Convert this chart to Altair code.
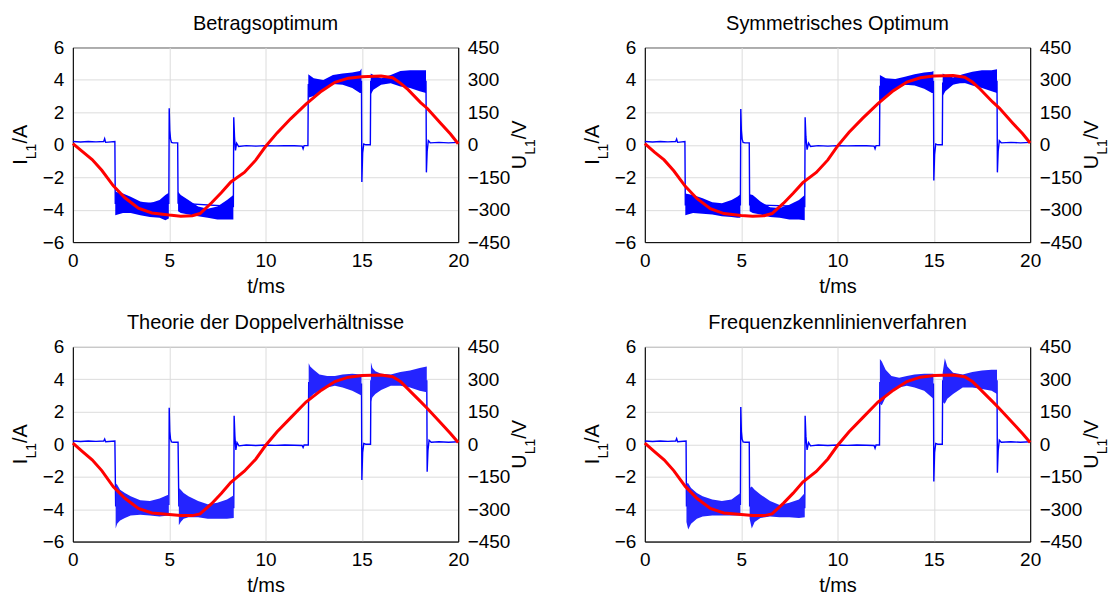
import altair as alt
import pandas as pd

FONT = "Liberation Sans"
W, H = 386, 195
BLUE = "#0000ff"
RED = "#ff0000"

titles = ["Betragsoptimum", "Symmetrisches Optimum",
          "Theorie der Doppelverhältnisse", "Frequenzkennlinienverfahren"]
x_ticks = [0, 5, 10, 15, 20]
i_ticks = [-6, -4, -2, 0, 2, 4, 6]
u_ticks = [-450, -300, -150, 0, 150, 300, 450]

# ---------- Panel 1: Betragsoptimum ----------
bo_tr_t = [0.0, 0.4, 0.8, 1.2, 1.6, 1.65, 1.7, 2.18, 2.2, 4.98, 5.0, 5.03, 5.07, 5.12, 5.2, 5.44, 5.46, 8.33, 8.35, 8.39, 8.44, 8.5, 8.6, 9.0, 9.5, 10.0, 10.5, 11.0, 11.5, 11.9, 11.95, 12.0, 12.2, 12.22, 14.98, 15.0, 15.04, 15.1, 15.2, 15.44, 15.46, 18.33, 18.35, 18.39, 18.45, 18.55, 19.0, 19.5, 20.0]
bo_tr_i = [0.2, 0.17, 0.2, 0.18, 0.2, 0.38, 0.15, 0.2, -3.6, -3.6, 2.25, 0.9, 0.35, 0.15, 0.12, 0.12, -3.6, -3.8, 1.7, 0.5, -0.35, 0.1, -0.1, -0.05, -0.08, -0.05, -0.07, -0.05, -0.06, -0.08, -0.25, -0.05, -0.05, 3.7, 3.9, -2.3, -0.5, 0.05, 0.0, 0.0, 3.9, 3.9, -1.7, -0.4, 0.25, 0.12, 0.15, 0.12, 0.15]
bo_b_seg = [1, 1, 1, 1, 1, 1, 1, 1, 2, 2, 2, 2, 2, 2, 2, 2, 3, 3, 3, 3, 3, 3, 3, 3, 4, 4, 4, 4, 4, 4, 4, 4]
bo_b_t = [2.2, 2.6, 3.0, 3.5, 4.0, 4.5, 4.8, 4.98, 5.46, 5.6, 6.0, 6.5, 7.0, 7.5, 8.0, 8.33, 12.22, 12.5, 13.0, 13.5, 14.0, 14.5, 14.9, 14.98, 15.46, 15.6, 16.0, 16.5, 17.0, 17.5, 18.0, 18.33]
bo_b_lo = [-4.35, -4.2, -4.2, -4.35, -4.45, -4.5, -4.65, -4.55, -4.1, -4.2, -4.3, -4.4, -4.5, -4.6, -4.6, -4.6, 2.9, 3.0, 3.4, 3.75, 3.7, 3.5, 3.2, 3.2, 3.1, 3.4, 3.7, 3.8, 3.6, 3.5, 3.3, 3.2]
bo_b_hi = [-2.9, -3.0, -3.2, -3.5, -3.6, -3.4, -3.1, -2.95, -2.9, -3.1, -3.4, -3.8, -3.95, -3.8, -3.4, -3.1, 4.35, 4.1, 4.0, 4.3, 4.4, 4.45, 4.55, 4.7, 4.4, 4.3, 4.1, 4.3, 4.55, 4.6, 4.6, 4.6]
bo_v_t = [0.0, 0.5, 1.0, 1.5, 2.1, 2.7, 3.4, 4.1, 5.0, 5.6, 6.2, 6.6, 7.2, 7.7, 8.2, 8.9, 9.5, 10.0, 10.6, 11.3, 12.1, 12.9, 13.6, 14.3, 15.0, 16.0, 16.6, 17.0, 17.4, 18.05, 18.4, 19.1, 19.6, 20.0]
bo_v_u = [5, -32, -68, -118, -190, -245, -293, -315, -325, -330, -328, -318, -268, -222, -172, -128, -70, -8, 55, 120, 188, 248, 289, 308, 315, 318, 310, 285, 255, 195, 168, 98, 50, 5]

# ---------- Panel 2: Symmetrisches Optimum ----------
so_tr_t = [0.0, 0.4, 0.8, 1.2, 1.6, 1.65, 1.7, 2.08, 2.1, 4.96, 4.98, 5.01, 5.05, 5.1, 5.2, 5.42, 5.44, 8.3, 8.32, 8.36, 8.42, 8.5, 8.6, 9.0, 9.5, 10.0, 10.5, 11.0, 11.5, 11.9, 11.95, 12.0, 12.18, 12.2, 14.98, 15.0, 15.04, 15.1, 15.2, 15.44, 15.46, 18.28, 18.3, 18.34, 18.4, 18.5, 19.0, 19.5, 20.0]
so_tr_i = [0.2, 0.17, 0.2, 0.18, 0.2, 0.35, 0.15, 0.2, -3.7, -3.7, 2.2, 0.9, 0.35, 0.15, 0.12, 0.12, -3.7, -3.8, 1.7, 0.5, -0.3, 0.1, -0.1, -0.05, -0.08, -0.05, -0.07, -0.05, -0.06, -0.08, -0.25, -0.05, -0.05, 3.6, 3.9, -2.2, -0.6, 0.05, 0.0, 0.0, 3.8, 3.9, -1.7, -0.4, 0.25, 0.12, 0.15, 0.12, 0.15]
so_b_seg = [1, 1, 1, 1, 1, 1, 1, 1, 2, 2, 2, 2, 2, 2, 2, 2, 3, 3, 3, 3, 3, 3, 3, 3, 4, 4, 4, 4, 4, 4, 4, 4]
so_b_t = [2.1, 2.5, 3.0, 3.5, 4.0, 4.5, 4.8, 4.96, 5.44, 5.6, 6.0, 6.5, 7.0, 7.5, 8.0, 8.3, 12.2, 12.5, 13.0, 13.5, 14.0, 14.5, 14.9, 14.98, 15.46, 15.6, 16.0, 16.5, 17.0, 17.5, 18.0, 18.28]
so_b_lo = [-4.35, -4.2, -4.25, -4.3, -4.4, -4.45, -4.5, -4.5, -4.1, -4.2, -4.3, -4.45, -4.5, -4.6, -4.6, -4.65, 2.7, 3.0, 3.4, 3.7, 3.65, 3.45, 3.2, 3.2, 3.0, 3.3, 3.7, 3.85, 3.65, 3.5, 3.3, 3.2]
so_b_hi = [-3.0, -3.1, -3.3, -3.55, -3.6, -3.4, -3.2, -3.05, -3.05, -3.1, -3.5, -3.85, -3.9, -3.7, -3.4, -3.1, 4.3, 4.1, 4.05, 4.2, 4.35, 4.45, 4.5, 4.55, 4.4, 4.3, 4.15, 4.35, 4.5, 4.6, 4.6, 4.65]
so_v_t = [0.0, 0.5, 1.0, 1.5, 2.1, 2.7, 3.4, 4.1, 5.0, 5.6, 6.2, 6.6, 7.2, 7.7, 8.2, 8.9, 9.5, 10.0, 10.6, 11.3, 12.1, 12.9, 13.6, 14.3, 15.0, 16.0, 16.6, 17.0, 17.4, 18.05, 18.4, 19.1, 19.6, 20.0]
so_v_u = [5, -34, -70, -120, -192, -248, -295, -318, -327, -330, -328, -318, -270, -224, -175, -128, -70, -6, 58, 122, 190, 250, 290, 310, 318, 320, 312, 290, 258, 198, 170, 100, 52, 8]

# ---------- Panel 3: Theorie der Doppelverhaeltnisse ----------
dv_tr_t = [0.0, 0.4, 0.8, 1.2, 1.6, 1.65, 1.7, 2.18, 2.22, 4.98, 5.0, 5.03, 5.07, 5.12, 5.2, 5.46, 5.5, 8.35, 8.37, 8.41, 8.46, 8.52, 8.62, 9.0, 9.5, 10.0, 10.5, 11.0, 11.5, 11.9, 11.95, 12.0, 12.22, 12.24, 14.98, 15.0, 15.04, 15.1, 15.2, 15.45, 15.47, 18.37, 18.39, 18.43, 18.49, 18.6, 19.0, 19.5, 20.0]
dv_tr_i = [0.2, 0.17, 0.2, 0.18, 0.2, 0.32, 0.15, 0.2, -3.8, -3.7, 2.25, 0.8, 0.3, 0.15, 0.12, 0.12, -3.8, -3.9, 1.75, 0.5, -0.35, 0.1, -0.1, -0.05, -0.08, -0.05, -0.07, -0.05, -0.06, -0.08, -0.2, -0.05, -0.05, 3.8, 3.7, -2.2, -0.5, 0.05, 0.0, 0.0, 3.9, 3.9, -1.7, -0.4, 0.25, 0.12, 0.15, 0.12, 0.15]
dv_b_seg = [1, 1, 1, 1, 1, 1, 1, 1, 1, 2, 2, 2, 2, 2, 2, 2, 2, 2, 3, 3, 3, 3, 3, 3, 3, 3, 3, 4, 4, 4, 4, 4, 4, 4, 4, 4]
dv_b_t = [2.22, 2.3, 2.45, 2.7, 3.0, 3.5, 4.0, 4.5, 4.98, 5.5, 5.6, 5.75, 6.0, 6.5, 7.0, 7.5, 8.0, 8.35, 12.24, 12.32, 12.5, 12.8, 13.2, 13.6, 14.0, 14.5, 14.98, 15.47, 15.55, 15.7, 16.0, 16.5, 17.0, 17.5, 18.0, 18.37]
dv_b_lo = [-5.2, -4.9, -4.7, -4.55, -4.4, -4.35, -4.4, -4.45, -4.4, -5.0, -4.8, -4.6, -4.5, -4.5, -4.6, -4.6, -4.6, -4.55, 2.6, 2.9, 3.1, 3.3, 3.5, 3.6, 3.5, 3.3, 3.0, 2.6, 2.9, 3.1, 3.35, 3.6, 3.6, 3.5, 3.3, 3.2]
dv_b_hi = [-2.4, -2.5, -2.8, -3.0, -3.2, -3.45, -3.5, -3.35, -3.1, -2.7, -2.8, -3.0, -3.2, -3.5, -3.7, -3.6, -3.4, -3.15, 5.0, 4.8, 4.6, 4.3, 4.2, 4.2, 4.3, 4.35, 4.3, 5.05, 4.7, 4.5, 4.35, 4.3, 4.45, 4.55, 4.7, 4.8]
dv_v_t = [0.0, 0.5, 1.0, 1.5, 2.1, 2.7, 3.4, 4.1, 5.0, 5.6, 6.2, 6.6, 7.2, 7.7, 8.2, 8.9, 9.5, 10.0, 10.6, 11.3, 12.1, 12.9, 13.6, 14.3, 15.0, 16.0, 16.6, 17.0, 17.4, 18.05, 18.4, 19.1, 19.6, 20.0]
dv_v_u = [5, -34, -72, -122, -197, -250, -297, -318, -325, -330, -330, -322, -275, -228, -176, -125, -68, -6, 58, 122, 195, 250, 290, 310, 318, 320, 312, 290, 255, 197, 165, 98, 50, 8]

# ---------- Panel 4: Frequenzkennlinienverfahren ----------
fk_tr_t = [0.0, 0.4, 0.8, 1.2, 1.6, 1.65, 1.7, 2.14, 2.16, 4.96, 4.98, 5.01, 5.05, 5.1, 5.2, 5.42, 5.44, 8.3, 8.32, 8.36, 8.42, 8.5, 8.6, 9.0, 9.5, 10.0, 10.5, 11.0, 11.5, 11.9, 11.95, 12.0, 12.18, 12.2, 14.98, 15.0, 15.04, 15.1, 15.2, 15.44, 15.46, 18.28, 18.3, 18.34, 18.4, 18.5, 19.0, 19.5, 20.0]
fk_tr_i = [0.2, 0.17, 0.2, 0.18, 0.2, 0.35, 0.15, 0.2, -3.8, -3.7, 2.3, 0.8, 0.3, 0.15, 0.12, 0.12, -3.8, -3.9, 1.75, 0.5, -0.35, 0.1, -0.1, -0.05, -0.08, -0.05, -0.07, -0.05, -0.06, -0.08, -0.25, -0.05, -0.05, 3.8, 3.7, -2.3, -0.5, 0.05, 0.0, 0.0, 3.9, 3.9, -1.75, -0.4, 0.25, 0.12, 0.15, 0.12, 0.15]
fk_b_seg = [1, 1, 1, 1, 1, 1, 1, 1, 1, 2, 2, 2, 2, 2, 2, 2, 2, 2, 3, 3, 3, 3, 3, 3, 3, 3, 3, 4, 4, 4, 4, 4, 4, 4, 4, 4]
fk_b_t = [2.16, 2.25, 2.4, 2.7, 3.0, 3.5, 4.0, 4.5, 4.96, 5.44, 5.55, 5.7, 6.0, 6.5, 7.0, 7.5, 8.0, 8.3, 12.2, 12.3, 12.5, 12.8, 13.2, 13.6, 14.0, 14.5, 14.98, 15.46, 15.57, 15.7, 16.0, 16.5, 17.0, 17.5, 18.0, 18.28]
fk_b_lo = [-4.8, -5.25, -4.9, -4.6, -4.45, -4.4, -4.4, -4.4, -4.4, -4.6, -5.2, -4.8, -4.55, -4.45, -4.5, -4.5, -4.55, -4.5, 2.5, 2.4, 2.9, 3.2, 3.5, 3.6, 3.5, 3.3, 2.8, 2.6, 2.5, 2.8, 3.1, 3.5, 3.5, 3.4, 3.3, 3.1]
fk_b_hi = [-2.4, -2.4, -2.7, -3.0, -3.2, -3.4, -3.5, -3.4, -3.0, -2.7, -2.6, -2.8, -3.1, -3.5, -3.75, -3.6, -3.4, -3.0, 5.25, 5.1, 4.6, 4.2, 4.1, 4.2, 4.3, 4.35, 4.35, 4.4, 5.3, 4.8, 4.4, 4.3, 4.45, 4.55, 4.6, 4.6]
fk_v_t = [0.0, 0.5, 1.0, 1.5, 2.1, 2.7, 3.4, 4.1, 5.0, 5.6, 6.2, 6.6, 7.2, 7.7, 8.2, 8.9, 9.5, 10.0, 10.6, 11.3, 12.1, 12.9, 13.6, 14.3, 15.0, 16.0, 16.6, 17.0, 17.4, 18.05, 18.4, 19.1, 19.6, 20.0]
fk_v_u = [5, -34, -72, -122, -195, -250, -297, -318, -325, -330, -330, -322, -272, -226, -175, -126, -68, -6, 58, 122, 195, 250, 290, 310, 318, 320, 312, 290, 255, 197, 165, 98, 50, 8]

panels = [
    (bo_tr_t, bo_tr_i, bo_b_seg, bo_b_t, bo_b_lo, bo_b_hi, bo_v_t, bo_v_u, BLUE),
    (so_tr_t, so_tr_i, so_b_seg, so_b_t, so_b_lo, so_b_hi, so_v_t, so_v_u, BLUE),
    (dv_tr_t, dv_tr_i, dv_b_seg, dv_b_t, dv_b_lo, dv_b_hi, dv_v_t, dv_v_u, "#2424ff"),
    (fk_tr_t, fk_tr_i, fk_b_seg, fk_b_t, fk_b_lo, fk_b_hi, fk_v_t, fk_v_u, "#2424ff"),
]

one = pd.DataFrame({"k": [0]})


def label(text, x, y, size):
    return alt.Chart(one).mark_text(
        text=text, angle=270, align="left", baseline="middle",
        font=FONT, fontSize=size, color="black"
    ).encode(x=alt.value(x), y=alt.value(y))


def make_panel(title, tr_t, tr_i, b_seg, b_t, b_lo, b_hi, v_t, v_u, band_color):
    trace = pd.DataFrame({"t": tr_t, "i": tr_i})
    band = pd.DataFrame({"seg": b_seg, "t": b_t, "lo": b_lo, "hi": b_hi})
    volt = pd.DataFrame({"t": v_t, "u": v_u})

    x_enc = alt.X("t:Q", scale=alt.Scale(domain=[0, 20], nice=False),
                  axis=alt.Axis(values=x_ticks, title="t/ms", grid=True))
    i_scale = alt.Scale(domain=[-6, 6], nice=False)
    i_axis = alt.Axis(values=i_ticks, title=None, orient="left", grid=True)
    u_axis = alt.Axis(values=u_ticks, title=None, orient="right", grid=False)

    line_i = alt.Chart(trace).mark_line(color=BLUE, strokeWidth=1.4).encode(
        x=x_enc,
        y=alt.Y("i:Q", scale=i_scale, axis=i_axis),
    )
    area = alt.Chart(band).mark_area(color=band_color, opacity=1, interpolate="linear").encode(
        x=x_enc,
        y=alt.Y("lo:Q", scale=i_scale, axis=i_axis),
        y2="hi:Q",
        detail="seg:N",
    )
    blue = alt.layer(line_i, area)
    red = alt.Chart(volt).mark_line(color=RED, strokeWidth=3).encode(
        x=x_enc,
        y=alt.Y("u:Q", scale=alt.Scale(domain=[-450, 450], nice=False), axis=u_axis),
    )
    texts = [
        label("I", -52, 117.5, 20),
        label("L1", -41, 111.9, 14),
        label("/A", -52, 96.3, 20),
        label("U", W + 62, 122, 20),
        label("L1", W + 73, 107.6, 14),
        label("/V", W + 62, 92, 20),
    ]
    return alt.layer(blue, red, *texts).resolve_scale(y="independent").properties(
        width=W, height=H,
        title=alt.TitleParams(text=title, font=FONT, fontSize=20, fontWeight="normal",
                              anchor="middle", offset=4.5, color="black"),
    )


charts = [make_panel(titles[k], *panels[k]) for k in range(4)]

chart = alt.concat(
    *charts, columns=2, spacing={"row": 105, "column": 187}, bounds="flush"
).properties(
    padding={"left": 2, "top": 5, "right": 0, "bottom": 0}
).configure_view(
    stroke="black", strokeWidth=1
).configure_axis(
    labelFont=FONT, labelFontSize=19, labelColor="black",
    titleFont=FONT, titleFontSize=20, titleFontWeight="normal", titleColor="black",
    domainColor="black", domainWidth=1, gridColor="#dcdcdc", gridWidth=1,
    ticks=False, labelPadding=9, titlePadding=6, labelFlush=False,
    labelOverlap=False, labelBound=False,
)

chart.save("out.html", embed_options={"renderer": "svg", "actions": False})
